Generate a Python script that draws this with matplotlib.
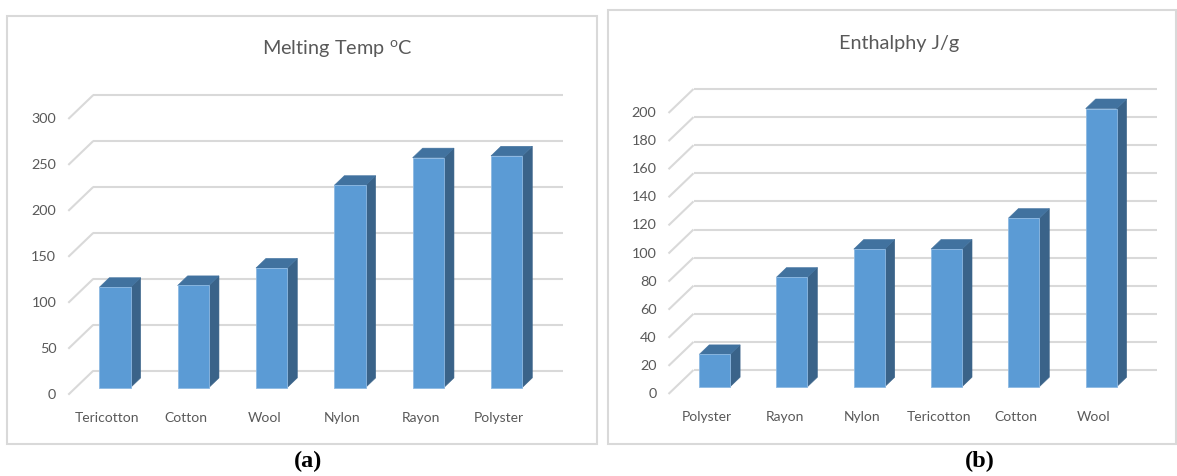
import numpy as np
import matplotlib
matplotlib.use("Agg")
import matplotlib.pyplot as plt
from matplotlib.patches import Polygon, Rectangle

W, H, DPI = 1177, 476, 100

# ---- data -------------------------------------------------------------
melt_fibres = ["Tericotton", "Cotton", "Wool", "Nylon", "Rayon", "Polyster"]
melt_temp = [109, 111, 130, 220, 250, 252]
melt_ticks = [0, 50, 100, 150, 200, 250, 300]

enth_fibres = ["Polyster", "Rayon", "Nylon", "Tericotton", "Cotton", "Wool"]
enthalpy = [23, 78, 98, 98, 120, 198]
enth_ticks = [0, 20, 40, 60, 80, 100, 120, 140, 160, 180, 200]

# ---- style ------------------------------------------------------------
plt.rcParams["font.family"] = ["Lato", "DejaVu Sans"]
plt.rcParams["mathtext.fontset"] = "custom"
plt.rcParams["mathtext.rm"] = "Lato"

TEXT = "#595959"
GRID = "#D9D9D9"
FRONT = "#5B9BD5"
SIDE = "#3A6389"
TOP = "#41729F"
EDGE = "#8DB9E3"

DEPTH_PX = (25.0, 24.0)   # oblique depth of the floor, in pixels (right, up)
D_FRONT, D_BACK = 0.70, 0.30   # bar faces, as fraction of depth toward viewer
BAR_W = 0.40

fig = plt.figure(figsize=(W / DPI, H / DPI), dpi=DPI)


def px_axes(x0, x1, y_top, y_bot):
    """Axes whose box is given in pixel coordinates measured from the top."""
    return fig.add_axes([x0 / W, 1 - y_bot / H, (x1 - x0) / W, (y_bot - y_top) / H])


def px_to_pt(p):
    return p * 72.0 / DPI


def column_chart_3d(ax, cats, vals, ticks):
    n = len(cats)
    ymax = ticks[-1]
    ax.set_xlim(0, n)
    ax.set_ylim(0, ymax)
    ax.axis("off")

    bb = ax.get_position()
    sx = bb.width * W / n          # pixels per category
    sy = bb.height * H / ymax      # pixels per value unit
    ddx = -DEPTH_PX[0] / sx        # back -> front shift in data units
    ddy = -DEPTH_PX[1] / sy

    # back wall gridlines and floor-side diagonals
    for t in ticks:
        ax.plot([0, n], [t, t], color=GRID, lw=1.5, zorder=1,
                clip_on=False, solid_capstyle="butt")
        ax.plot([0, ddx], [t, t + ddy], color=GRID, lw=1.5, zorder=1,
                clip_on=False, solid_capstyle="butt")
        ax.annotate(str(t), (ddx, t + ddy), xytext=(px_to_pt(-12), 0),
                    textcoords="offset points", ha="right", va="center",
                    fontsize=10.4, color=TEXT, annotation_clip=False)

    centers = np.arange(n) + 0.5
    fx = D_FRONT * ddx
    fy = D_FRONT * ddy
    bx = (D_BACK - D_FRONT) * ddx
    by = (D_BACK - D_FRONT) * ddy

    bars = ax.bar(centers + fx, vals, width=BAR_W, bottom=fy, color=FRONT,
                  edgecolor=EDGE, linewidth=0.6, zorder=4, clip_on=False)

    for rect in bars:
        xl = rect.get_x()
        xr = xl + rect.get_width()
        yb = rect.get_y()
        yt = yb + rect.get_height()
        side = Polygon([(xr, yb), (xr, yt), (xr + bx, yt + by), (xr + bx, yb + by)],
                       closed=True, facecolor=SIDE, edgecolor=SIDE, lw=0.4,
                       zorder=3, clip_on=False)
        top = Polygon([(xl, yt), (xr, yt), (xr + bx, yt + by), (xl + bx, yt + by)],
                      closed=True, facecolor=TOP, edgecolor=TOP, lw=0.4,
                      zorder=3, clip_on=False)
        ax.add_patch(side)
        ax.add_patch(top)

    for c, name in zip(centers, cats):
        ax.annotate(name, (c + ddx, ddy), xytext=(0, px_to_pt(-23)),
                    textcoords="offset points", ha="center", va="center",
                    fontsize=10, color=TEXT, annotation_clip=False)


def panel_border(x0, y0, x1, y1):
    fig.patches.append(Rectangle((x0 / W, 1 - y1 / H), (x1 - x0) / W, (y1 - y0) / H,
                                 transform=fig.transFigure, fill=False,
                                 edgecolor=GRID, lw=1.5))


# ---- (a) melting temperature ---------------------------------------
ax_a = px_axes(93.3, 563.3, 95.0, 370.7)
column_chart_3d(ax_a, melt_fibres, melt_temp, melt_ticks)
panel_border(7, 16, 597, 444)
fig.text(337 / W, 1 - 49 / H, r"Melting Temp $^{\mathrm{o}}$C", ha="center",
         va="center", fontsize=14.3, color=TEXT)

# ---- (b) enthalpy ----------------------------------------------------
ax_b = px_axes(693.5, 1157.3, 89.0, 370.0)
column_chart_3d(ax_b, enth_fibres, enthalpy, enth_ticks)
panel_border(607.5, 10, 1175.5, 444)
fig.text(899 / W, 1 - 43 / H, "Enthalphy J/g", ha="center", va="center",
         fontsize=14.3, color=TEXT)

# ---- captions --------------------------------------------------------
for x, lab in [(308, "(a)"), (980, "(b)")]:
    fig.text(x / W, 1 - 461 / H, lab, ha="center", va="center", fontsize=17.5,
             fontweight="bold", family=["Liberation Serif", "DejaVu Serif"],
             color="black")

fig.savefig("out.png", dpi=DPI, facecolor="white")
